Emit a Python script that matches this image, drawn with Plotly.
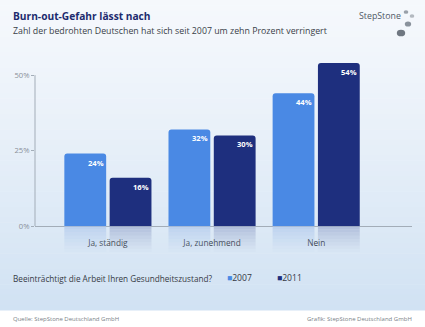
import plotly.graph_objects as go

# --- data -------------------------------------------------------------
categories = ["Ja, ständig", "Ja, zunehmend", "Nein"]
series_names = ["2007", "2011"]
values_2007 = [24, 32, 44]
values_2011 = [16, 30, 54]
tick_vals = [0, 25, 50]
tick_text = ["0%", "25%", "50%"]

title = "Burn-out-Gefahr lässt nach"
subtitle = "Zahl der bedrohten Deutschen hat sich seit 2007 um zehn Prozent verringert"
question = "Beeinträchtigt die Arbeit Ihren Gesundheitszustand?"
source = "Quelle: StepStone Deutschland GmbH"
credit = "Grafik: StepStone Deutschland GmbH"

# --- style --------------------------------------------------------------
W, H = 425, 327
FONT = "Open Sans"
C2007 = "#4a89e4"
C2011 = "#1e2f7e"
REFL_2007 = "#a9c4ec"
REFL_2011 = "#97a6cb"
AXIS = "#a3adb8"
TEXT = "#353a44"

# plot area in pixels
PL, PR, PT, PB = 35, 412, 57, 252
ZERO_PX = 226
split = (PB - ZERO_PX) / (PB - PT)


def px(x):
    return (x - PL) / (PR - PL)


def py(y):
    return (PB - y) / (PB - PT)


def mix(c1, c2, t):
    a = [int(c1[i:i + 2], 16) for i in (1, 3, 5)]
    b = [int(c2[i:i + 2], 16) for i in (1, 3, 5)]
    return "rgb(%d,%d,%d)" % tuple(round(a[k] + (b[k] - a[k]) * t) for k in range(3))


shapes = []
# soft vertical background gradient above the white footer
n_bands = 60
grad_bottom = 310
for i in range(n_bands):
    y0 = grad_bottom * i / n_bands
    y1 = grad_bottom * (i + 1) / n_bands + 0.6
    shapes.append(dict(type="rect", xref="paper", yref="paper", layer="below",
                       x0=px(0), x1=px(W), y0=py(y1), y1=py(y0), line_width=0,
                       fillcolor=mix("#f5f8fc", "#d1e2f3", (i / (n_bands - 1)) ** 1.2)))

# vertical axis line from 0 % to 50 %
shapes.append(dict(type="line", xref="paper", yref="y", x0=0, x1=0,
                   y0=tick_vals[0], y1=tick_vals[-1], line=dict(color=AXIS, width=1)))

fig = go.Figure()

fig.add_trace(go.Bar(name=series_names[0], x=categories, y=values_2007,
                     marker=dict(color=C2007, cornerradius=3, line_width=0),
                     offsetgroup="a", yaxis="y", hoverinfo="skip"))
fig.add_trace(go.Bar(name=series_names[1], x=categories, y=values_2011,
                     marker=dict(color=C2011, cornerradius=3, line_width=0),
                     offsetgroup="b", yaxis="y", hoverinfo="skip"))

# faded mirror images beneath the baseline
refl_depth = 8.6
steps = 8
for k in range(steps):
    op = 0.6 * (1 - k / steps) ** 1.3
    for grp, col in (("a", REFL_2007), ("b", REFL_2011)):
        fig.add_trace(go.Bar(x=categories, y=[-refl_depth / steps] * len(categories),
                             base=[-refl_depth * k / steps] * len(categories),
                             marker=dict(color=col, line_width=0), opacity=op,
                             offsetgroup=grp, yaxis="y2", showlegend=False,
                             hoverinfo="skip"))

annotations = []
# value labels, right-aligned at the top of each bar
for cat, v in zip(categories, values_2007):
    annotations.append(dict(x=cat, y=v, xref="x", yref="y", text=f"<b>{v}%</b>",
                            xanchor="right", yanchor="top", xshift=-2, yshift=-2,
                            showarrow=False, font=dict(family=FONT, size=7.6, color="white")))
for cat, v in zip(categories, values_2011):
    annotations.append(dict(x=cat, y=v, xref="x", yref="y", text=f"<b>{v}%</b>",
                            xanchor="right", yanchor="top", xshift=43, yshift=-2,
                            showarrow=False, font=dict(family=FONT, size=7.6, color="white")))

# headings
annotations.append(dict(x=px(11), y=py(16), xref="paper", yref="paper", text=f"<b>{title}</b>",
                        xanchor="left", yanchor="middle", showarrow=False,
                        font=dict(family=FONT, size=10.2, color="#1c2b6e")))
annotations.append(dict(x=px(11), y=py(30.5), xref="paper", yref="paper", text=subtitle,
                        xanchor="left", yanchor="middle", showarrow=False,
                        font=dict(family=FONT, size=8.8, color="#3a3f48")))
# logo text
annotations.append(dict(x=px(403), y=py(16), xref="paper", yref="paper", text="StepStone",
                        xanchor="right", yanchor="middle", showarrow=False,
                        font=dict(family=FONT, size=8.8, color="#4f5866")))
# legend line
annotations.append(dict(x=px(11), y=py(278), xref="paper", yref="paper", text=question,
                        xanchor="left", yanchor="middle", showarrow=False,
                        font=dict(family=FONT, size=8.2, color=TEXT)))
for xp, name, col in ((225, series_names[0], C2007), (275, series_names[1], C2011)):
    annotations.append(dict(x=px(xp), y=py(278), xref="paper", yref="paper",
                            text=f"<span style='color:{col}'>■</span>{name}",
                            xanchor="left", yanchor="middle", showarrow=False,
                            font=dict(family=FONT, size=8.6, color=TEXT)))
# footer
annotations.append(dict(x=px(11), y=py(319), xref="paper", yref="paper", text=source,
                        xanchor="left", yanchor="middle", showarrow=False,
                        font=dict(family=FONT, size=6, color="#7a7f88")))
annotations.append(dict(x=px(414), y=py(319), xref="paper", yref="paper", text=credit,
                        xanchor="right", yanchor="middle", showarrow=False,
                        font=dict(family=FONT, size=6, color="#7a7f88")))

# stones of the logo
for cx, cy, r, col in ((406, 12, 2.3, "#9aa1aa"), (412, 16, 2.3, "#b3b9c0"),
                       (408, 24, 3.2, "#8a929c"), (401, 33, 4.2, "#6f7781")):
    shapes.append(dict(type="circle", xref="paper", yref="paper",
                       x0=px(cx - r), x1=px(cx + r), y0=py(cy + r * 0.8), y1=py(cy - r * 0.8),
                       fillcolor=col, line_width=0))

fig.update_layout(
    width=W, height=H,
    margin=dict(l=PL, r=W - PR, t=PT, b=H - PB, pad=0),
    paper_bgcolor="white", plot_bgcolor="rgba(0,0,0,0)",
    barmode="group", bargap=0.13, bargroupgap=0.077,
    showlegend=False,
    font=dict(family=FONT, color="#333"),
    xaxis=dict(type="category", range=[-0.7, 2.92], anchor="y",
               showline=True, linecolor=AXIS, linewidth=1, showgrid=False,
               ticks="outside", ticklen=9, tickcolor="rgba(0,0,0,0)",
               tickfont=dict(family=FONT, size=8.3, color=TEXT)),
    yaxis=dict(domain=[split, 1], range=[0, 56], showgrid=False, zeroline=False,
               showline=False, tickvals=tick_vals, ticktext=tick_text,
               ticks="outside", ticklen=3, tickcolor=AXIS,
               tickfont=dict(family=FONT, size=7.6, color="#8a9099")),
    yaxis2=dict(domain=[0, split], range=[-refl_depth, 0], visible=False),
    shapes=shapes,
    annotations=annotations,
)

fig.write_html("out.html")
